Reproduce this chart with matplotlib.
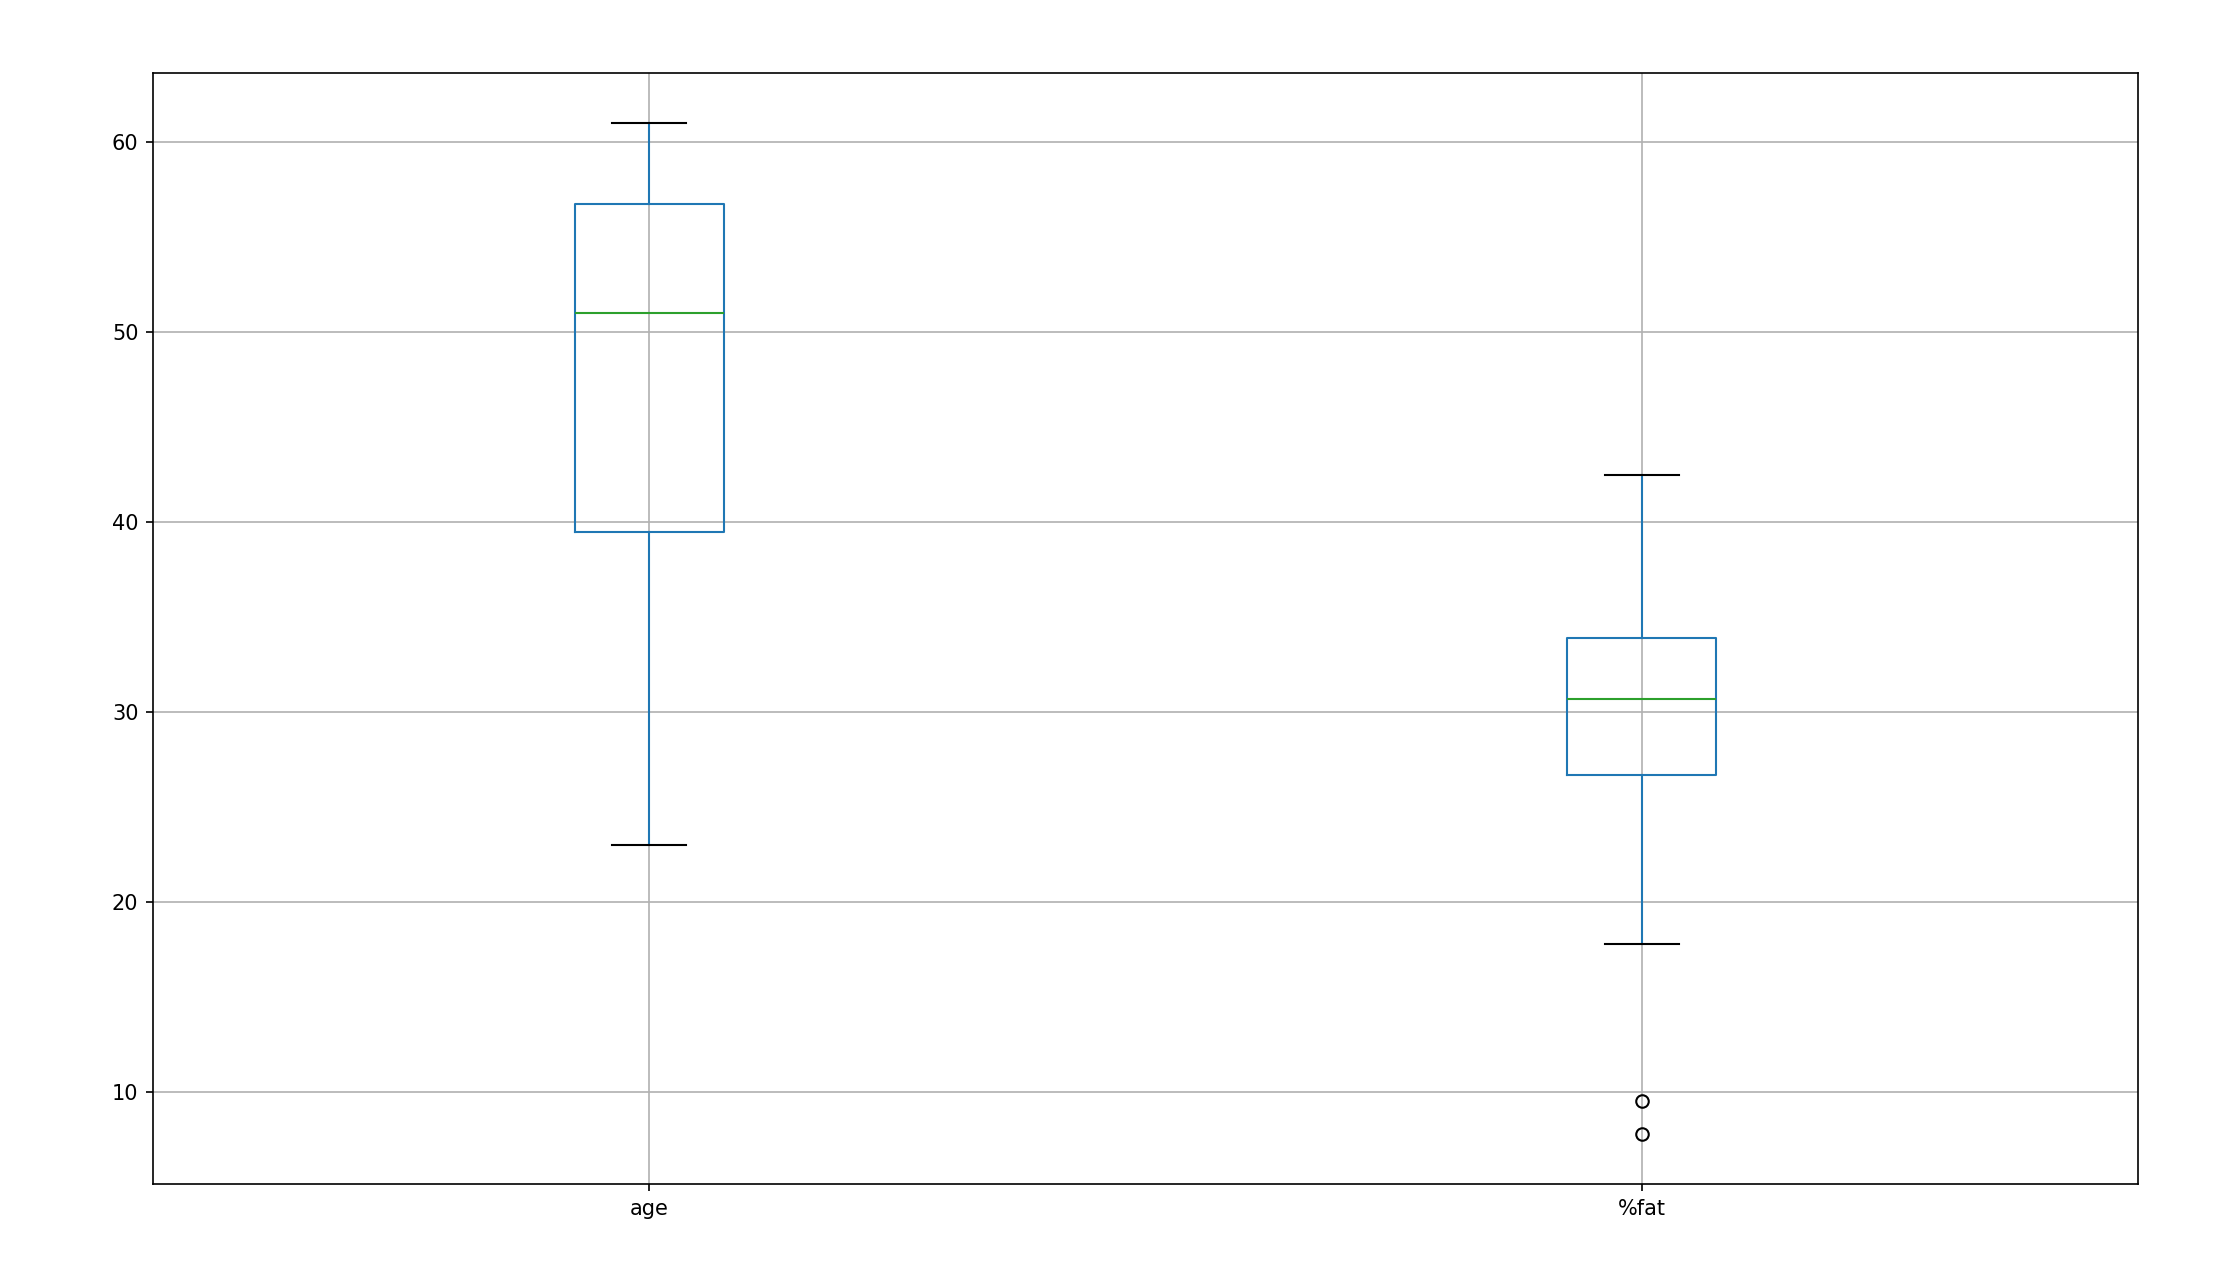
#!/usr/bin/env python3

import matplotlib
matplotlib.use("Agg")
import matplotlib.pyplot as plt
import pandas as pd

# age / body-fat sample (18 records)
age = [23, 23, 27, 27, 39, 41, 47, 49, 50, 52, 54, 54, 56, 57, 58, 58, 60, 61]
fat = [9.5, 26.5, 7.8, 17.8, 31.4, 25.9, 27.4, 27.2, 31.2, 34.6, 42.5, 28.8,
       33.4, 30.2, 34.1, 32.9, 41.2, 35.7]
columns = ["age", "%fat"]

DPI = 150
W, H = 2223, 1279

df = pd.DataFrame({columns[0]: age, columns[1]: fat})

fig = plt.figure(figsize=(W / DPI, H / DPI), dpi=DPI)
ax = fig.add_axes([153 / W, 1 - 1184 / H, (2138 - 153) / W, (1184 - 73) / H])
df.boxplot(column=columns, ax=ax)

fig.savefig("out.png", dpi=DPI)
